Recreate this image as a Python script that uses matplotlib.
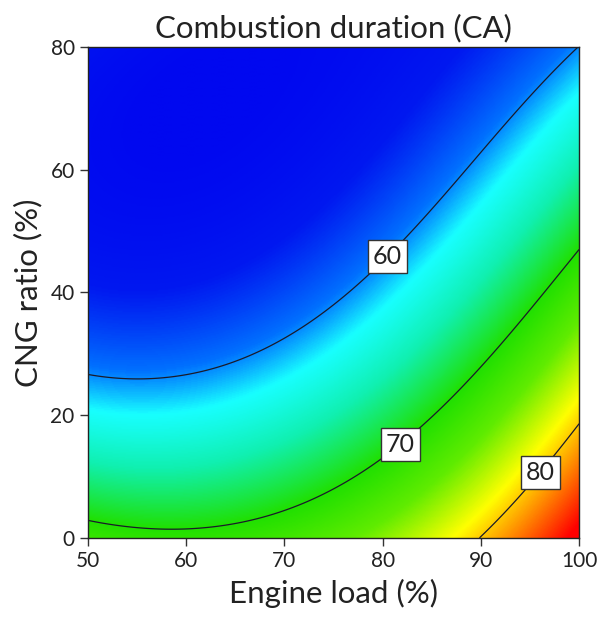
import numpy as np
import matplotlib.pyplot as plt
from matplotlib.colors import LinearSegmentedColormap, Normalize

plt.rcParams["font.family"] = ["Lato", "DejaVu Sans"]

# fitted response surface, coded A = (load-75)/25, B = (ratio-40)/40
term_names = ["1", "A", "B", "AB", "A2", "B2", "A2B", "AB2", "A3", "B3"]
coefficients = [59.473, 8.245, -10.243, -2.543, 4.889, 3.943, -1.003, -2.883, -0.227, 0.392]

load_range = [50, 100]
ratio_range = [0, 80]
contour_levels = [60, 70, 80]
x_ticks = [50, 60, 70, 80, 90, 100]
y_ticks = [0, 20, 40, 60, 80]

# colour stops (value, colour) for the blue-green-red scale
stop_values = [53, 56, 59.5, 62, 65.5, 70, 74, 78.5, 86]
stop_colors = ["#0008f0", "#0018f0", "#0070ff", "#18ffff", "#10f0b0", "#20e000", "#60ec00", "#ffff00", "#ff0000"]


def surface(load, ratio):
    A = (load - 75) / 25
    B = (ratio - 40) / 40
    parts = [np.ones_like(A), A, B, A * B, A**2, B**2, A**2 * B, A * B**2, A**3, B**3]
    return sum(c * p for c, p in zip(coefficients, parts))


def main():
    load = np.linspace(load_range[0], load_range[1], 400)
    ratio = np.linspace(ratio_range[0], ratio_range[1], 400)
    LL, RR = np.meshgrid(load, ratio)
    Z = surface(LL, RR)

    vmin, vmax = stop_values[0], stop_values[-1]
    cmap = LinearSegmentedColormap.from_list(
        "de", [((v - vmin) / (vmax - vmin), c) for v, c in zip(stop_values, stop_colors)]
    )

    fig = plt.figure(figsize=(6.02, 6.35), dpi=100)
    ax = fig.add_axes([0.146, 0.153, 0.816, 0.773])
    ax.imshow(Z, extent=load_range + ratio_range, origin="lower", aspect="auto",
              cmap=cmap, norm=Normalize(vmin, vmax), interpolation="bilinear")
    cs = ax.contour(LL, RR, Z, levels=contour_levels, colors="#1a1a2a", linewidths=0.9)
    labels = ax.clabel(cs, fmt="%d", fontsize=18, inline=True, inline_spacing=2,
                       manual=[(79.4, 47.5), (81, 16.8), (95.4, 11.6)])
    for t in labels:
        t.set_color("#222222")
        t.set_rotation(0)
        t.set_bbox(dict(boxstyle="square,pad=0.2", facecolor="white", edgecolor="#333333", linewidth=1))

    ax.set_xlim(load_range)
    ax.set_ylim(ratio_range)
    ax.set_xticks(x_ticks)
    ax.set_yticks(y_ticks)
    ax.tick_params(direction="out", length=6, width=1, labelsize=15, colors="#333333", labelcolor="#222222")
    for s in ax.spines.values():
        s.set_linewidth(1)
        s.set_color("#222222")

    ax.set_title("Combustion duration (CA)", fontsize=22.5, color="#222222", pad=7)
    ax.set_xlabel("Engine load (%)", fontsize=22.5, color="#222222", labelpad=6)
    ax.set_ylabel("CNG ratio (%)", fontsize=22.5, color="#222222", labelpad=6)

    fig.savefig("out.png")


if __name__ == "__main__":
    main()
